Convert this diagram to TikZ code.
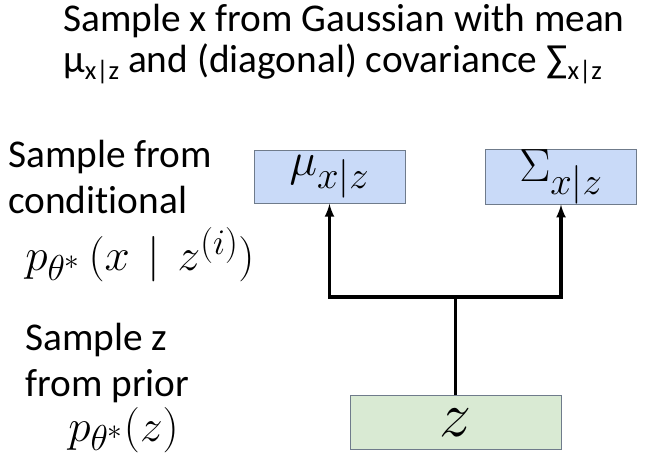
\RequirePackage{fix-cm}
\documentclass[tikz,border=0pt]{standalone}
\usepackage{fontspec}
\setmainfont{Carlito}[Ligatures=NoCommon]
\usepackage{amsmath}
\usepackage{tikz}
\usetikzlibrary{arrows,positioning}
\DeclareMathSizes{34}{34}{27}{22}
\DeclareMathSizes{35}{35}{29}{24}
\DeclareMathSizes{48}{48}{36}{28}
\definecolor{boxblue}{HTML}{C9DAF8}
\definecolor{boxgreen}{HTML}{D9EAD3}
\definecolor{boxline}{HTML}{6F7B8B}
\tikzstyle{label} = [anchor=base west,inner sep=0pt,font=\fontsize{29.5}{40}\selectfont,align=left]
\tikzstyle{formula} = [anchor=base west,inner sep=0pt,font=\fontsize{34}{40}\selectfont]
\tikzstyle{param} = [draw=boxline,fill=boxblue,minimum width=151*0.75pt,minimum height=53*0.75pt,inner sep=0pt,font=\fontsize{35}{40}\selectfont]
\tikzstyle{latent} = [draw=boxline,fill=boxgreen,minimum width=211*0.75pt,minimum height=54*0.75pt,inner sep=0pt,font=\fontsize{48}{50}\selectfont]
\tikzstyle{link} = [line width=2.3pt,->,>=latex]
\newcommand{\lowsub}[1]{\raisebox{-0.35ex}{\fontsize{20}{20}\selectfont #1}}

\begin{document}
\begin{tikzpicture}[x=0.75pt,y=-0.75pt]
    \useasboundingbox (0,0) rectangle (646,463);
    % title
    \node[label] (title1) at (63,32) {Sample x from Gaussian with mean};
    \node[label] (title2) at (63,73) {μ\lowsub{x|z} and (diagonal) covariance ∑\lowsub{x|z}};
    % left side texts
    \node[label] (cond1) at (8,168) {Sample from};
    \node[label] (cond2) at (8,214) {conditional};
    \node[formula] (pcond) at (25,271) {$p_{\theta^*}\,(x \mkern2mu\mid\mkern2mu z^{(i)})$};
    \node[label] (prior1) at (25,350) {Sample z};
    \node[label] (prior2) at (25,396) {from prior};
    \node[formula] (pprior) at (68,441) {$p_{\theta^*}(z)$};
    % boxes
    \node[param] (mu) at (329.5,177) {$\mu_{x|z}$};
    \node[param] (sigma) at (561,177) {$\Sigma_{x|z}$};
    \node[latent] (z) at (455.5,422.5) {$z$};
    % connectors
    \coordinate (split) at (z.north |- 0,297);
    \draw[line width=2.3pt] (z.north) -- (split);
    \draw[link] (split) -| (mu.south);
    \draw[link] (split) -| (sigma.south);
\end{tikzpicture}
\end{document}
